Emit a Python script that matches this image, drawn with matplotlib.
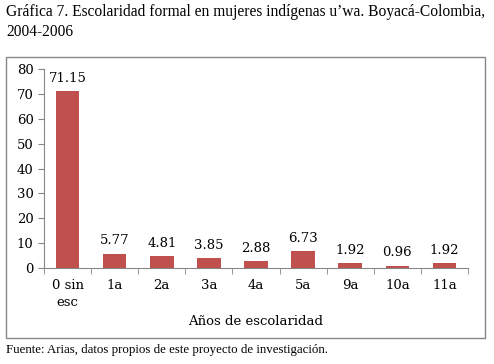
import matplotlib.pyplot as plt
from matplotlib.patches import Rectangle
import numpy as np

categories = ['0 sin\nesc', '1a', '2a', '3a', '4a', '5a', '9a', '10a', '11a']
values = [71.15, 5.77, 4.81, 3.85, 2.88, 6.73, 1.92, 0.96, 1.92]
labels = ['71.15', '5.77', '4.81', '3.85', '2.88', '6.73', '1.92', '0.96', '1.92']

serif = 'DejaVu Serif'
fig = plt.figure(figsize=(4.94, 3.64), dpi=100)

# outer chart border
fig.patches.append(Rectangle((6 / 494, 26 / 364), 479 / 494, 281 / 364,
                             transform=fig.transFigure, fill=False,
                             edgecolor='#868686', linewidth=1))

ax = fig.add_axes([44 / 494, 96 / 364, 424 / 494, 199 / 364])
x = np.arange(len(categories))
ax.bar(x, values, width=0.5, color='#C0504D')

for xi, v, lab in zip(x, values, labels):
    ax.text(xi, v + 2.5, lab, ha='center', va='bottom', fontsize=9.5, family=serif)

ax.set_xlim(-0.5, len(categories) - 0.5)
ax.set_ylim(0, 80)
ax.set_yticks(range(0, 81, 10))
ax.set_xticks(x)
ax.set_xticklabels(categories, fontsize=9.5, family=serif, linespacing=1.4)
ax.set_xticks(np.arange(-0.5, len(categories)), minor=True)
ax.tick_params(axis='x', which='major', length=0, pad=8)
ax.tick_params(axis='x', which='minor', length=4, color='#868686')
ax.tick_params(axis='y', length=4, color='#868686', labelsize=9.5)
for t in ax.get_yticklabels():
    t.set_family(serif)

for s in ['top', 'right']:
    ax.spines[s].set_visible(False)
ax.spines['left'].set_color('#868686')
ax.spines['bottom'].set_color('#868686')

ax.set_xlabel('Años de escolaridad', fontsize=9.5, family=serif, labelpad=4)

fig.text(6 / 494, 1 - 4 / 364,
         'Gráfica 7. Escolaridad formal en mujeres indígenas u\u2019wa. Boyacá-Colombia,\n2004-2006',
         ha='left', va='top', fontsize=11.2, family='Liberation Serif', linespacing=1.3)
fig.text(6 / 494, 1 - 344 / 364,
         'Fuente: Arias, datos propios de este proyecto de investigación.',
         ha='left', va='top', fontsize=9.3, family='Liberation Serif')

fig.savefig('out.png', dpi=100)
